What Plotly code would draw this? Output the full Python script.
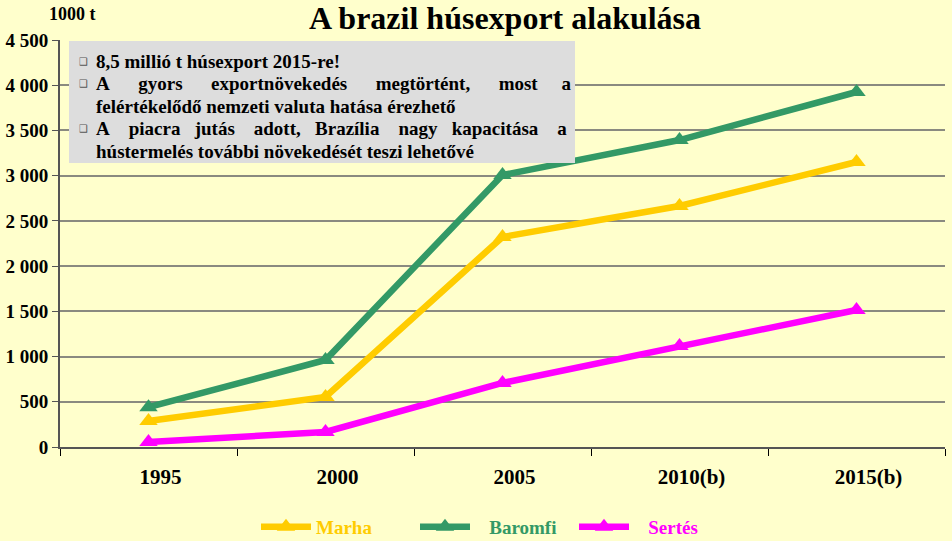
import plotly.graph_objects as go

categories = ["1995", "2000", "2005", "2010(b)", "2015(b)"]
marha = [287, 553, 2322, 2665, 3151]
baromfi = [440, 962, 3007, 3394, 3925]
sertes = [55, 166, 708, 1117, 1515]

series = [
    ("Marha", marha, "#FFCC00", ""),
    ("Baromfi", baromfi, "#339966", "&nbsp;&nbsp;&nbsp;"),
    ("Sertés", sertes, "#FF00FF", "&nbsp;&nbsp;&nbsp;"),
]

FONT = "Liberation Serif"
BG = "#FFFFCC"
PW, PH, PT, PL = 885, 407, 40, 60  # plot area geometry in px


def px_x(px):
    return (px - PL) / PW


def px_y(py):
    return 1 - (py - PT) / PH


fig = go.Figure()
for name, vals, col, pad in series:
    fig.add_trace(go.Scatter(
        x=categories, y=vals, mode="lines+markers",
        name=f'{pad}<span style="color:{col}"><b>{name}</b></span>',
        line=dict(color=col, width=6.5),
        marker=dict(symbol="triangle-up", size=16, color=col),
    ))

NB = "&nbsp;"


def justify(words, gaps):
    out = words[0]
    for w, g in zip(words[1:], gaps):
        out += NB * g + w
    return out


bullet_lines = [
    (True, "8,5 millió t húsexport 2015-re!", 61),
    (True, justify(["A", "gyors", "exportnövekedés", "megtörtént,", "most", "a"],
                   [6, 6, 6, 6, 5]), 83.5),
    (False, "felértékelődő nemzeti valuta hatása érezhető", 106),
    (True, justify(["A", "piacra", "jutás", "adott,", "Brazília", "nagy", "kapacitása", "a"],
                   [4, 3, 4, 3, 4, 3, 4]), 128.5),
    (False, "hústermelés további növekedését teszi lehetővé", 151),
]

fig.add_shape(type="rect", xref="paper", yref="paper",
              x0=px_x(69), x1=px_x(575), y0=px_y(163), y1=px_y(41),
              fillcolor="#DDDDDD", line=dict(width=0), layer="above")
for has_bullet, txt, py in bullet_lines:
    if has_bullet:
        fig.add_annotation(
            xref="paper", yref="paper", x=px_x(77), y=px_y(py),
            xanchor="left", yanchor="middle", text="❑", showarrow=False,
            font=dict(family="DejaVu Sans", size=10, color="#555555"),
        )
    fig.add_annotation(
        xref="paper", yref="paper", x=px_x(94), y=px_y(py),
        xanchor="left", yanchor="middle", text=f"<b>{txt}</b>", showarrow=False,
        font=dict(family=FONT, size=19, color="#000000"),
    )

fig.add_annotation(
    xref="paper", yref="paper", x=px_x(505), y=px_y(18),
    xanchor="center", yanchor="middle",
    text="<b>A brazil húsexport alakulása</b>", showarrow=False,
    font=dict(family=FONT, size=32, color="#000000"),
)
fig.add_annotation(
    xref="paper", yref="paper", x=px_x(47), y=px_y(14),
    xanchor="left", yanchor="middle",
    text="<b>1000 t</b>", showarrow=False,
    font=dict(family=FONT, size=18, color="#000000"),
)

fig.update_layout(
    width=952, height=541,
    paper_bgcolor=BG, plot_bgcolor=BG,
    margin=dict(l=60, r=7, t=40, b=94, autoexpand=False),
    separators=", ",
    font=dict(family=FONT, color="#000000"),
    showlegend=True,
    legend=dict(orientation="h", x=px_x(256), xanchor="left", y=px_y(527), yanchor="middle",
                font=dict(family=FONT, size=19), itemwidth=50, entrywidth=94,
                bgcolor="rgba(0,0,0,0)"),
    xaxis=dict(
        type="category", tickson="boundaries", ticks="outside", ticklen=7,
        tickcolor="#000000", showline=True, linecolor="#555555", linewidth=2,
        showgrid=False, tickfont=dict(family=FONT, size=21, weight="bold"),
        ticklabelstandoff=10, ticklabelshift=12, range=[-0.5, 4.5], automargin=False,
    ),
    yaxis=dict(
        range=[0, 4500], dtick=500, tickformat=",d", ticks="outside", ticklen=6,
        tickcolor="#555555", showline=True, linecolor="#555555", linewidth=2,
        showgrid=True, gridcolor="#8a8a80", gridwidth=1.5,
        tickfont=dict(family=FONT, size=19, weight="bold"), zeroline=False,
        ticklabelstandoff=0, automargin=False,
    ),
)

fig.write_html("out.html", config={"displayModeBar": False},
               post_script="document.body.style.margin='0';document.body.style.overflow='hidden';")
